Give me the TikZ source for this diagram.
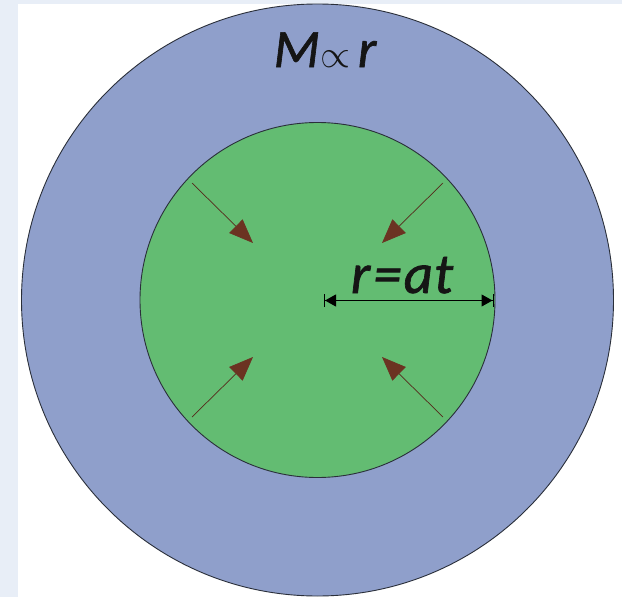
\documentclass[tikz,border=0pt]{standalone}
\usepackage{graphicx}
\usepackage{fontspec}
\setmainfont{Carlito}
\usetikzlibrary{arrows.meta}
\definecolor{stripc}{HTML}{E8EEF7}
\definecolor{outerc}{HTML}{8F9FCB}
\definecolor{innerc}{HTML}{63BC72}
\definecolor{brownc}{HTML}{6B3322}
\definecolor{edgec}{HTML}{2A2F3A}
\definecolor{inkc}{HTML}{151515}
\tikzset{
  ring/.style={circle, draw=edgec, line width=0.9pt, inner sep=0pt},
  pull/.style={draw=brownc!80!black, line width=0.7pt, -{Triangle[length=24pt,width=19pt,color=brownc,fill=brownc]}},
  lbl/.style={inner sep=0pt, anchor=base, text=inkc},
  span/.style={line width=1pt, {Bar[width=13pt,line width=1pt]Triangle[length=11pt,width=12pt]}-{Triangle[length=11pt,width=12pt]Bar[width=13pt,line width=1pt]}}
}
\begin{document}
\begin{tikzpicture}[x=1pt,y=-1pt]
\useasboundingbox (0,0) rectangle (622,597);
\fill[white] (0,0) rectangle (622,597);
\fill[stripc] (0,0) rectangle (18,597);
\fill[stripc] (0,0) rectangle (622,4);
\node[ring, fill=outerc, minimum size=592pt] (outer) at (317.5,300) {};
\node[ring, fill=innerc, minimum size=355pt] (inner) at (317.5,300) {};
\coordinate (a1) at (192,183); \coordinate (t1) at (253,243);
\coordinate (a2) at (443,183); \coordinate (t2) at (382,243);
\coordinate (a3) at (192,417); \coordinate (t3) at (253,357);
\coordinate (a4) at (443,417); \coordinate (t4) at (382,357);
\draw[pull] (a1) -- (t1);
\draw[pull] (a2) -- (t2);
\draw[pull] (a3) -- (t3);
\draw[pull] (a4) -- (t4);
\coordinate (c) at (324,300.5);
\coordinate (e) at (493.5,300.5);
\draw[span] (c) -- (e);
\node[lbl] (rat) at (402,293) {\fontsize{57}{60}\selectfont\addfontfeature{FakeBold=1.2}\itshape r\kern3pt=\kern2pt a\kern1pt t};
\node[lbl] (mr) at (325,67) {\fontsize{54}{56}\selectfont\addfontfeature{FakeBold=1.2}\itshape M\kern1pt\resizebox{30pt}{!}{$\propto$}\kern7pt r};
\end{tikzpicture}
\end{document}
